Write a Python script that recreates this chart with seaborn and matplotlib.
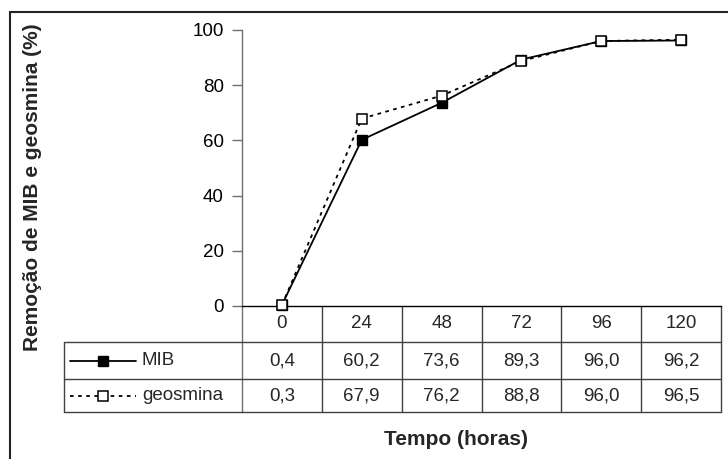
import matplotlib
matplotlib.use("Agg")
import matplotlib.pyplot as plt
import matplotlib.transforms as mtransforms
from matplotlib.lines import Line2D
import seaborn as sns
import pandas as pd

# Removal of MIB and geosmin over time
hours = [0, 24, 48, 72, 96, 120]
mib = [0.4, 60.2, 73.6, 89.3, 96.0, 96.2]
geosmina = [0.3, 67.9, 76.2, 88.8, 96.0, 96.5]
series_names = ["MIB", "geosmina"]
yticks = [0, 20, 40, 60, 80, 100]

sns.set_style("white")
plt.rcParams["font.family"] = ["Liberation Sans", "DejaVu Sans"]

W, H = 728, 459
fig = plt.figure(figsize=(W / 100, H / 100), dpi=100)
ax = fig.add_axes([242 / W, 1 - 306 / H, (721 - 242) / W, 276 / H])

df_mib = pd.DataFrame({"hours": hours, "value": mib})
df_geo = pd.DataFrame({"hours": hours, "value": geosmina})

sns.lineplot(data=df_mib, x="hours", y="value", ax=ax, color="black",
             linewidth=1.3, marker="s", markersize=6.5, markerfacecolor="black",
             markeredgecolor="black", markeredgewidth=1.0, clip_on=False, zorder=3)
sns.lineplot(data=df_geo, x="hours", y="value", ax=ax, color="black",
             linewidth=1.3, linestyle=(0, (2, 2.5)), marker="s", markersize=6.5,
             markerfacecolor="white", markeredgecolor="black",
             markeredgewidth=1.1, clip_on=False, zorder=4)

step = hours[1] - hours[0]
ax.set_xlim(hours[0] - step / 2, hours[-1] + step / 2)
ax.set_ylim(0, 100)
ax.set_yticks(yticks)
ax.set_yticklabels([str(v) for v in yticks])
ax.set_xticks([])
ax.tick_params(axis="y", direction="out", left=True, length=7, width=1,
               color="#707070", pad=6, labelsize=13.5, labelcolor="black")
for side in ("top", "right"):
    ax.spines[side].set_visible(False)
ax.spines["left"].set_color("#707070")
ax.spines["left"].set_linewidth(1.0)
ax.spines["bottom"].set_color("black")
ax.spines["bottom"].set_linewidth(1.0)

ax.set_ylabel("Remoção de MIB e geosmina (%)", fontsize=15, fontweight="bold")
ax.yaxis.set_label_coords(-0.4175, 0.431)
ax.set_xlabel("Tempo (horas)", fontsize=15, fontweight="bold", va="top")
ax.xaxis.set_label_coords(0.4468, -0.449)

# Data table under the axis
blend = mtransforms.blended_transform_factory(ax.transData, ax.transAxes)
y_head, y_row1, y_row2, y_bot = -0.1304, -0.2645, -0.3841, -0.3841
row_lines = [-0.1304, -0.2645, -0.3841]
table_left = -0.3716
line_col = "#404040"

bounds = [h - step / 2 for h in hours] + [hours[-1] + step / 2]
for i, b in enumerate(bounds):
    ax.plot([b, b], [0, -0.3841], transform=blend, clip_on=False,
            color="#707070" if i == 0 else line_col, lw=1.0)
for yl in row_lines:
    ax.plot([table_left, 1.0], [yl, yl], transform=ax.transAxes, clip_on=False,
            color=line_col, lw=1.0)
ax.plot([table_left, table_left], [-0.1304, -0.3841], transform=ax.transAxes,
        clip_on=False, color=line_col, lw=1.0)

y_centers = [-0.0652, -0.1975, -0.3243]
for h in hours:
    ax.text(h, y_centers[0], str(h), transform=blend, ha="center", va="center",
            fontsize=13.5)
for vals, yc in zip([mib, geosmina], y_centers[1:]):
    for h, v in zip(hours, vals):
        ax.text(h, yc, f"{v:.1f}".replace(".", ","), transform=blend,
                ha="center", va="center", fontsize=13.5)

# Legend keys inside the table
key_x0, key_x1, key_xm = -0.359, -0.2213, -0.290
ax.plot([key_x0, key_x1], [y_centers[1]] * 2, transform=ax.transAxes,
        clip_on=False, color="black", lw=1.3)
ax.plot([key_xm], [y_centers[1]], transform=ax.transAxes, clip_on=False,
        marker="s", ms=6.5, mfc="black", mec="black", ls="none")
ax.plot([key_x0, key_x1], [y_centers[2]] * 2, transform=ax.transAxes,
        clip_on=False, color="black", lw=1.3, ls=(0, (2, 2.5)))
ax.plot([key_xm], [y_centers[2]], transform=ax.transAxes, clip_on=False,
        marker="s", ms=6.5, mfc="white", mec="black", mew=1.1, ls="none")
for name, yc in zip(series_names, y_centers[1:]):
    ax.text(-0.2088, yc, name, transform=ax.transAxes, ha="left", va="center",
            fontsize=13.5)

# Chart border (left and top edges)
fig.add_artist(Line2D([10 / W, 10 / W], [0, 1 - 12 / H], color="#222222", lw=1.5))
fig.add_artist(Line2D([10 / W, 1], [1 - 12 / H, 1 - 12 / H], color="#222222", lw=1.5))

fig.savefig("out.png", dpi=100)
